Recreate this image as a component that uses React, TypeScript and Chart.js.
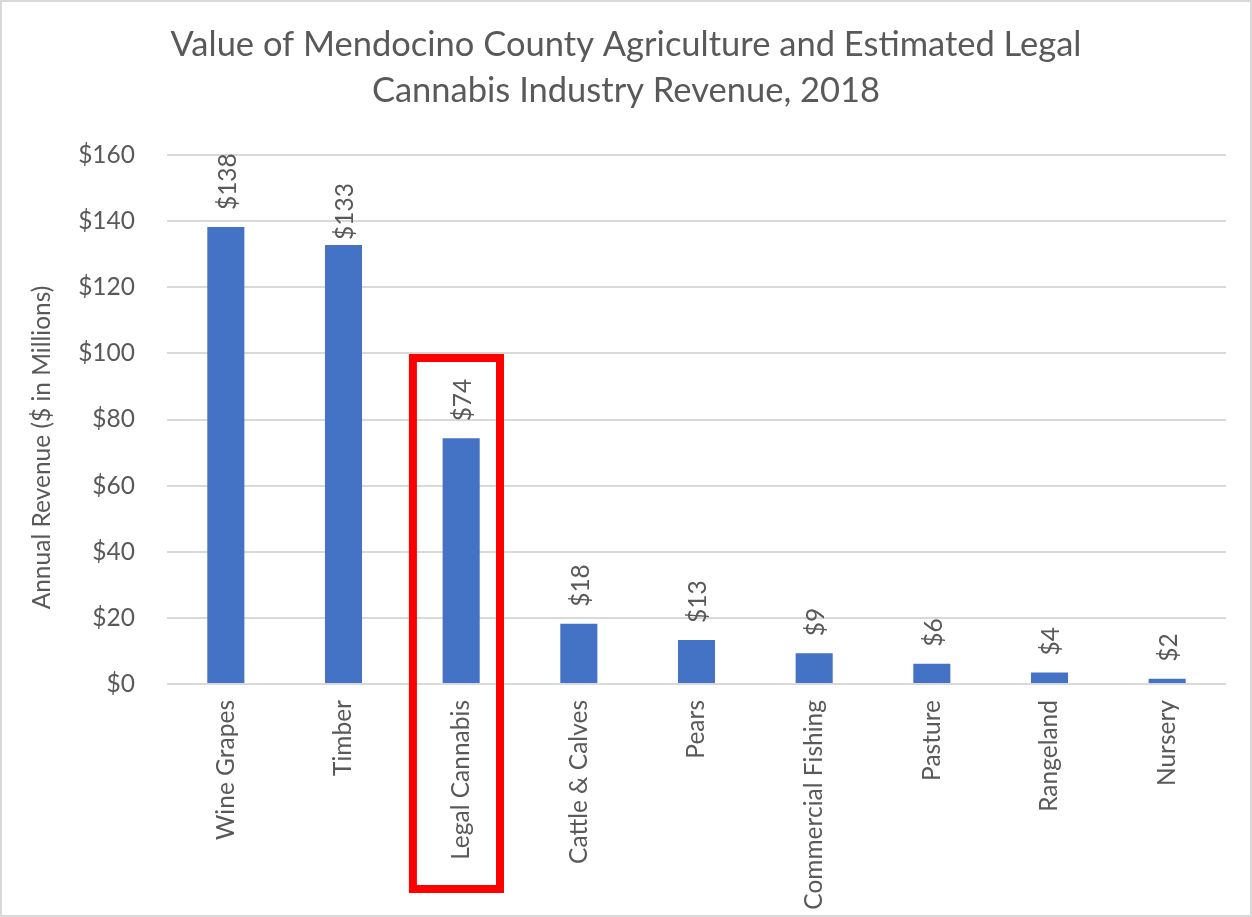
import React, { useEffect, useRef } from "react";
import { Chart, registerables } from "chart.js";

Chart.register(...registerables);

const categories = [
  "Wine Grapes",
  "Timber",
  "Legal Cannabis",
  "Cattle & Calves",
  "Pears",
  "Commercial Fishing",
  "Pasture",
  "Rangeland",
  "Nursery",
];
const revenue = [138.2, 132.8, 74.3, 18.2, 13.3, 9.3, 6.1, 3.5, 1.6];
const yMin = 0;
const yMax = 160;
const yStep = 20;
const titleLines = [
  "Value of Mendocino County Agriculture and Estimated Legal",
  "Cannabis Industry Revenue, 2018",
];
const yTitle = "Annual Revenue ($ in Millions)";
const highlightIndex = 2;

const FONT = "Lato";
const TEXT = "#595959";
const GRID = "#d9d9d9";
const BAR = "#4472C4";
const FS = 24.5;

const labelGap = (i: number) => (i === 1 ? 5 : 17);

const extrasPlugin = {
  id: "extras",
  afterDatasetsDraw(chart: any) {
    const { ctx, chartArea, scales } = chart;
    const meta = chart.getDatasetMeta(0);
    ctx.save();
    // title
    ctx.font = `34.5px ${FONT}`;
    ctx.fillStyle = TEXT;
    ctx.textAlign = "center";
    ctx.textBaseline = "middle";
    titleLines.forEach((line, i) => {
      ctx.fillText(line, chart.width / 2, 44.5 + i * 46.5);
    });
    // data labels
    ctx.font = `${FS}px ${FONT}`;
    ctx.textAlign = "left";
    meta.data.forEach((el: any, i: number) => {
      ctx.save();
      ctx.translate(el.x + 2, el.y - labelGap(i));
      ctx.rotate(-Math.PI / 2);
      ctx.fillText("$" + Math.round(revenue[i]), 0, 0);
      ctx.restore();
    });
    // y title
    ctx.save();
    ctx.translate(42, (chartArea.top + chartArea.bottom) / 2 + 28);
    ctx.rotate(-Math.PI / 2);
    ctx.textAlign = "center";
    ctx.fillText(yTitle, 0, 0);
    ctx.restore();
    // highlight box
    const x = scales.x;
    const y = scales.y;
    const cw = (chartArea.right - chartArea.left) / categories.length;
    const cx = x.getPixelForValue(highlightIndex);
    const left = cx - 0.41 * cw;
    const right = cx + 0.33 * cw;
    const top = y.getPixelForValue(98.6);
    const bottom = y.getPixelForValue(-62);
    ctx.strokeStyle = "#ff0000";
    ctx.lineWidth = 8;
    ctx.strokeRect(left, top, right - left, bottom - top);
    // outer border
    ctx.strokeStyle = GRID;
    ctx.lineWidth = 2;
    ctx.strokeRect(1, 1, chart.width - 2, chart.height - 2);
    ctx.restore();
  },
};

export default function App() {
  const ref = useRef<HTMLCanvasElement>(null);
  useEffect(() => {
    document.body.style.margin = "0";
    const chart = new Chart(ref.current as HTMLCanvasElement, {
      type: "bar",
      data: {
        labels: categories,
        datasets: [
          {
            data: revenue,
            backgroundColor: BAR,
            borderWidth: 0,
            barPercentage: 1,
            categoryPercentage: 0.315,
          },
        ],
      },
      options: {
        responsive: false,
        animation: false,
        devicePixelRatio: 1,
        layout: { padding: { left: 0, right: 26, top: 155, bottom: 0 } },
        plugins: {
          legend: { display: false },
          tooltip: { enabled: false },
          title: { display: false },
        },
        scales: {
          x: {
            grid: { display: false, drawTicks: false },
            border: { display: false },
            ticks: {
              color: TEXT,
              font: { family: FONT, size: FS },
              minRotation: 90,
              maxRotation: 90,
              padding: 16,
              autoSkip: false,
            },
            afterFit(scale: any) {
              scale.height = 233;
            },
          },
          y: {
            min: yMin,
            max: yMax,
            grid: { color: GRID, lineWidth: 2, drawTicks: false },
            border: { display: false },
            ticks: {
              stepSize: yStep,
              color: TEXT,
              font: { family: FONT, size: FS },
              padding: 32,
              callback: (v: any) => "$" + v,
            },
            afterFit(scale: any) {
              scale.width = 167;
            },
          },
        },
      },
      plugins: [extrasPlugin],
    });
    return () => chart.destroy();
  }, []);
  return (
    <div style={{ width: 1252, height: 917, background: "#fff" }}>
      <canvas ref={ref} width={1252} height={917} />
    </div>
  );
}
